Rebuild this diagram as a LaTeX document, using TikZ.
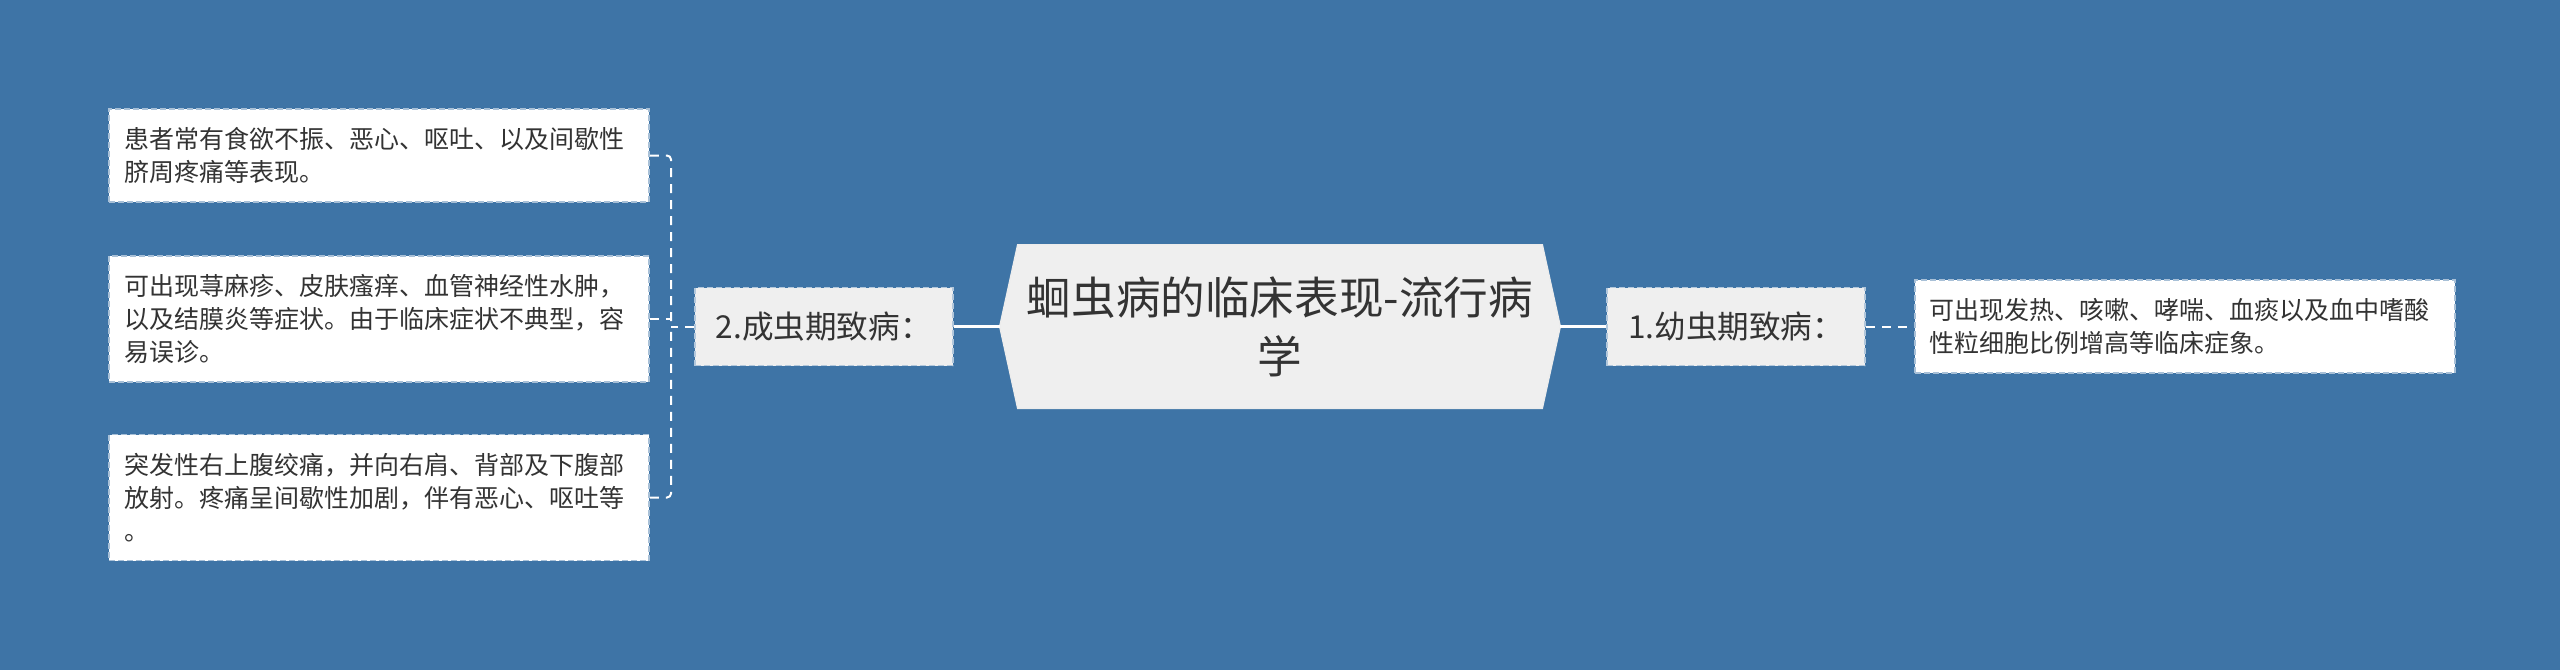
\documentclass[tikz,border=0pt]{standalone}
\usepackage{fontspec}
\setmainfont{Noto Sans CJK SC}
\usetikzlibrary{positioning}
\usetikzlibrary{backgrounds}
\definecolor{bgblue}{HTML}{3E74A6}
\definecolor{boxgray}{HTML}{EFEFEF}
\definecolor{txtgray}{HTML}{333333}

\begin{document}
\begin{tikzpicture}[x=0.5pt,y=-0.5pt,
        node distance=23pt,
        title/.style={minimum width=280pt, minimum height=81.5pt, inner sep=0pt, align=center,
            text=txtgray, font=\fontsize{22.3}{29.5}\selectfont},
        branch/.style={fill=boxgray, draw=white!60!bgblue, dash pattern=on 3pt off 1.5pt, line width=0.8pt,
            minimum width=129pt, minimum height=39pt, inner sep=0pt, text=txtgray,
            font=\fontsize{15.8}{18}\selectfont},
        leaf/.style={fill=white, draw=white!55!bgblue, dash pattern=on 3pt off 1.5pt, line width=0.8pt,
            text width=255pt, inner xsep=7.5pt, inner ysep=8pt, minimum height=46.5pt, align=left,
            text=txtgray, font=\fontsize{12.5}{16.5}\selectfont},
        trunk/.style={draw=white, line width=1.6pt},
        link/.style={draw=white, line width=1pt, dash pattern=on 4.5pt off 3.5pt, rounded corners=2pt}]
        % Nodes
        \node[title]                    (title) at (1280,326.5) {蛔虫病的临床表现-流行病\\学};
        \node[branch, left=of title]    (adult) {2.成虫期致病：};
        \node[branch, right=of title]   (larva) {1.幼虫期致病：};
        \node[leaf, right=24pt of larva] (larvaleaf) {可出现发热、咳嗽、哮喘、血痰以及血中嗜酸\\性粒细胞比例增高等临床症象。};
        \node[leaf] (adultA) at (379,155.5) {患者常有食欲不振、恶心、呕吐、以及间歇性\\脐周疼痛等表现。};
        \node[leaf, minimum height=63pt] (adultB) at (379,319) {可出现荨麻疹、皮肤瘙痒、血管神经性水肿，\\以及结膜炎等症状。由于临床症状不典型，容\\易误诊。};
        \node[leaf, minimum height=63pt] (adultC) at (379,497.5) {突发性右上腹绞痛，并向右肩、背部及下腹部\\放射。疼痛呈间歇性加剧，伴有恶心、呕吐等\\。};
        \coordinate[left=11.5pt of adult] (fork);

        % Background and centre shape
        \begin{pgfonlayer}{background}
            \fill[bgblue] (0,0) rectangle (2560,670);
            \filldraw[fill=boxgray, draw=white!85!gray, line width=0.6pt]
                (title.west) -- ([xshift=9pt]title.north west) -- ([xshift=-9pt]title.north east)
                -- (title.east) -- ([xshift=-9pt]title.south east) -- ([xshift=9pt]title.south west) -- cycle;
        \end{pgfonlayer}

        % Edges
        \draw[trunk] (title.west) -- (adult.east);
        \draw[trunk] (title.east) -- (larva.west);
        \draw[link]  (larva.east) -- (larvaleaf.west);
        \draw[link]  (adult.west) -- (fork);
        \draw[link]  (adultA.east) -| (fork);
        \draw[link]  (adultC.east) -| (fork);
        \draw[link]  (adultB.east) -- (adultB.east -| fork);
\end{tikzpicture}
\end{document}
